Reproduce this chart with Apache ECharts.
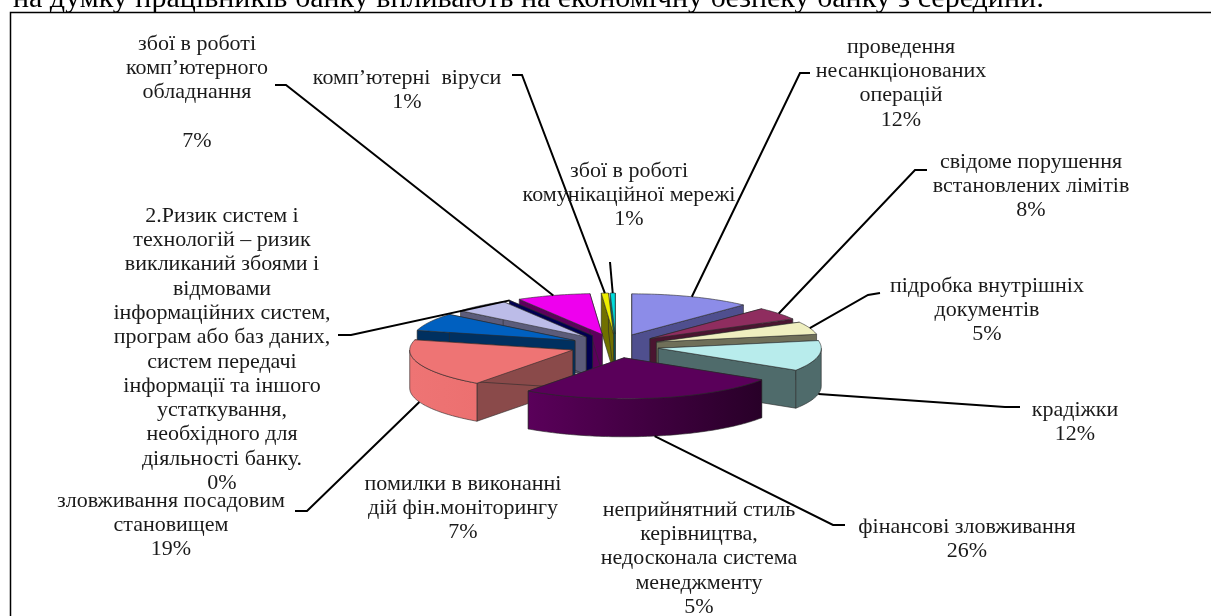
<!DOCTYPE html>
<html>
<head>
<meta charset="utf-8">
<style>html,body{margin:0;padding:0;background:#fff;}#main{width:1211px;height:616px;}</style>
<script src="https://cdn.jsdelivr.net/npm/echarts@6/dist/echarts.min.js"></script>
</head>
<body>
<div id="main"></div>
<script>
// slices go clockwise from 12 o'clock
var sliceNames = [
    'проведення несанкціонованих операцій',
    'свідоме порушення встановлених лімітів',
    'підробка внутрішніх документів',
    'крадіжки',
    'фінансові зловживання',
    'зловживання посадовим становищем',
    'помилки в виконанні дій фін.моніторингу',
    'неприйнятний стиль керівництва, недосконала система менеджменту',
    '2.Ризик систем і технологій',
    'збої в роботі комп’ютерного обладнання',
    'комп’ютерні віруси',
    'збої в роботі комунікаційної мережі'
];
// share of the ring as drawn
var sliceShares = [12, 5, 5, 12, 26, 19, 7, 5.5, 0, 7.3, 0.7, 0.5];
// percent as printed in the labels
var printedPercents = [12, 8, 5, 12, 26, 19, 7, 5, 0, 7, 1, 1];
var labelLines = [
    ['проведення', 'несанкціонованих', 'операцій'],
    ['свідоме порушення', 'встановлених лімітів'],
    ['підробка внутрішніх', 'документів'],
    ['крадіжки'],
    ['фінансові зловживання'],
    ['зловживання посадовим', 'становищем'],
    ['помилки в виконанні', 'дій фін.моніторингу'],
    ['неприйнятний стиль', 'керівництва,', 'недосконала система', 'менеджменту'],
    ['2.Ризик систем і', 'технологій – ризик', 'викликаний збоями і', 'відмовами', 'інформаційних систем,', 'програм або баз даних,', 'систем передачі', 'інформації та іншого', 'устаткування,', 'необхідного для', 'діяльності банку.'],
    ['збої в роботі', 'комп’ютерного', 'обладнання', ''],
    ['комп’ютерні  віруси'],
    ['збої в роботі', 'комунікаційної мережі']
];

// layout
var cx = 616, cy = 346, rx = 163, ry = 41, depth = 38, explodeRight = 43, explodeLeft = 46, explodeY = 12;
var topColors = ['#8c8ce8', '#8f2d5f', '#efefc0', '#b8ecec', '#5a005a', '#ee7474', '#0060c0', '#bcbce8', '#000060', '#ee00ee', '#eeee00', '#00dcdc'];
var wallColors = ['#4f4f8e', '#4a1530', '#6f6f59', '#4f6b6b', '#3a003a', '#8a4a4a', '#003060', '#5c5c7a', '#000050', '#5c005c', '#707000', '#007070'];
var rimLeft = ['#4f4f8e', '#4a1530', '#6f6f59', '#4f6b6b', '#5a005a', '#ee7474', '#003060', '#5c5c7a', '#000050', '#5c005c', '#707000', '#007070'];
var rimRight = ['#4f4f8e', '#4a1530', '#6f6f59', '#4f6b6b', '#280028', '#ec7070', '#003060', '#5c5c7a', '#000050', '#5c005c', '#707000', '#007070'];
// [center x, first line center y]
var labelPos = [[901, 47], [1031, 162], [987, 286], [1075, 410], [967, 527], [171, 501], [463, 484], [699, 510], [222, 216], [197, 44], [407, 78], [629, 171]];
// null = label has no leader
var leaderElbows = [
    [[810, 73], [800, 73]], [[927, 170], [915, 170]], [[880, 293], [868, 295]], [[1020, 407], [1005, 407]],
    [[845, 525], [833, 525]], [[295, 511], [307, 511]], null, null,
    [[338, 335], [351, 335]], [[275, 85], [286, 85]], [[512, 75], [522, 75]], [[610, 262]]
];
var lineHeight = 24.3;

var total = sliceShares.reduce(function (a, b) { return a + b; }, 0);
var slices = [];
var acc = 0;
for (var i = 0; i < sliceShares.length; i++) {
    var a0 = acc / total * Math.PI * 2;
    acc += sliceShares[i];
    var a1 = acc / total * Math.PI * 2;
    var mid = (a0 + a1) / 2;
    var sx = Math.sin(mid);
    slices.push({
        a0: a0, a1: a1, mid: mid,
        ax: cx + (sx < 0 ? explodeLeft : explodeRight) * sx,
        ay: cy - explodeY * Math.cos(mid)
    });
}

function rim(s, a) {
    return [s.ax + rx * Math.sin(a), s.ay - ry * Math.cos(a)];
}

// paint order: far slices first
var drawOrder = slices.map(function (s, i) { return i; }).sort(function (p, q) {
    return Math.cos(slices[q].mid) - Math.cos(slices[p].mid);
});

var edge = { stroke: '#2a2a2a', lineWidth: 0.6 };

function wall(s, a, color) {
    var p = rim(s, a);
    return {
        type: 'polygon',
        shape: { points: [[s.ax, s.ay], p, [p[0], p[1] + depth], [s.ax, s.ay + depth]] },
        style: { fill: color, stroke: edge.stroke, lineWidth: edge.lineWidth }
    };
}

function renderSlice(params, api) {
    var idx = api.value(0);
    var s = slices[idx];
    var children = [wall(s, s.a0, wallColors[idx]), wall(s, s.a1, wallColors[idx])];

    // outer wall, only the part turned towards the viewer
    var from = Math.max(s.a0, Math.PI / 2), to = Math.min(s.a1, Math.PI * 1.5);
    if (to > from) {
        var up = [], down = [];
        for (var a = from; a < to; a += 0.02) {
            var p = rim(s, a);
            up.push(p);
            down.unshift([p[0], p[1] + depth]);
        }
        var pe = rim(s, to);
        up.push(pe);
        down.unshift([pe[0], pe[1] + depth]);
        // polygon goes right to left along the rim, gradient is by screen x
        children.push({
            type: 'polygon',
            shape: { points: up.concat(down) },
            style: {
                fill: new echarts.graphic.LinearGradient(0, 0, 1, 0, [
                    { offset: 0, color: rimLeft[idx] },
                    { offset: 1, color: rimRight[idx] }
                ]),
                stroke: edge.stroke, lineWidth: edge.lineWidth
            }
        });
    }
    if (s.a1 > s.a0) {
        var pts = [[s.ax, s.ay]];
        for (var b = s.a0; b < s.a1; b += 0.02) pts.push(rim(s, b));
        pts.push(rim(s, s.a1));
        children.push({
            type: 'polygon',
            shape: { points: pts },
            style: { fill: topColors[idx], stroke: edge.stroke, lineWidth: edge.lineWidth }
        });
    }
    return { type: 'group', children: children };
}

// where a leader touches its slice
function leaderEnd(idx) {
    var s = slices[idx];
    var p = rim(s, s.mid);
    if (Math.cos(s.mid) < 0) p = [p[0], p[1] + depth];
    return p;
}

function renderLabel(params, api) {
    var idx = api.value(0);
    var children = [];
    if (leaderElbows[idx]) {
        children.push({
            type: 'polyline',
            shape: { points: leaderElbows[idx].concat([leaderEnd(idx)]) },
            style: { fill: null, stroke: '#000', lineWidth: 2 }
        });
    }
    var lines = labelLines[idx].concat([printedPercents[idx] + '%']);
    children.push({
        type: 'text',
        style: {
            text: lines.join('\n'),
            x: labelPos[idx][0],
            y: labelPos[idx][1] - lineHeight / 2,
            align: 'center',
            verticalAlign: 'top',
            font: '22px "Liberation Serif"',
            lineHeight: lineHeight,
            fill: '#1a1a1a'
        }
    });
    return { type: 'group', children: children };
}

var myChart = echarts.init(document.getElementById('main'), null, { renderer: 'canvas' });

var option = {
    backgroundColor: '#fff',
    animation: false,
    graphic: [
        {
            type: 'text',
            z: 20,
            style: {
                text: 'на думку працівників банку впливають на економічну безпеку банку з середини:',
                x: 13, y: 14,
                verticalAlign: 'bottom',
                font: '30px "Liberation Serif"',
                fill: '#000'
            }
        },
        {
            type: 'rect',
            z: 0,
            shape: { x: 10.5, y: 12.5, width: 1300, height: 700 },
            style: { fill: '#fff', stroke: '#000', lineWidth: 1.5 }
        }
    ],
    series: [
        {
            type: 'custom',
            coordinateSystem: 'none',
            z: 5,
            silent: true,
            renderItem: renderSlice,
            data: drawOrder.map(function (i) { return { name: sliceNames[i], value: [i, sliceShares[i]] }; })
        },
        {
            type: 'custom',
            coordinateSystem: 'none',
            z: 6,
            silent: true,
            renderItem: renderLabel,
            data: sliceNames.map(function (n, i) { return { name: n, value: [i, printedPercents[i]] }; })
        }
    ]
};

myChart.setOption(option);
</script>
</body>
</html>
